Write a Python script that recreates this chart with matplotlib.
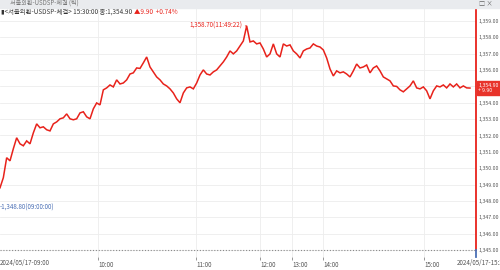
import matplotlib.pyplot as plt
import matplotlib.patches as mpatches
import numpy as np

plt.rcParams['font.family'] = ['Noto Sans CJK KR', 'DejaVu Sans']

# tick-chart of USD/KRW, one value every few ticks
PRICES = [
    1348.80, 1349.42, 1350.64, 1350.45, 1351.19, 1351.86, 1351.49, 1351.37, 1351.67, 1351.49,
    1352.16, 1352.71, 1352.47, 1352.53, 1352.35, 1352.28, 1352.71, 1352.83, 1353.02, 1353.08,
    1353.32, 1353.02, 1352.96, 1353.02, 1353.38, 1353.45, 1353.14, 1353.02, 1353.63, 1353.99,
    1353.87, 1354.79, 1354.91, 1355.09, 1354.97, 1355.40, 1355.15, 1355.21, 1355.40, 1355.76,
    1355.83, 1356.13, 1356.10, 1356.44, 1356.80, 1356.19, 1355.89, 1355.58, 1355.40, 1355.15,
    1355.03, 1354.85, 1354.60, 1354.24, 1354.00, 1354.60, 1354.91, 1354.97, 1354.85, 1355.21,
    1355.70, 1356.01, 1355.76, 1355.70, 1355.89, 1356.01, 1356.25, 1356.50, 1356.80, 1357.17,
    1356.99, 1357.17, 1357.47, 1357.78, 1358.70, 1357.72, 1357.78, 1357.60, 1357.66, 1357.29,
    1356.80, 1356.99, 1357.60, 1356.99, 1356.80, 1357.60, 1357.47, 1357.54, 1357.17, 1356.99,
    1356.74, 1357.17, 1357.29, 1357.35, 1357.60, 1357.47, 1357.41, 1357.23, 1356.74, 1356.07,
    1355.64, 1355.95, 1355.83, 1355.89, 1355.76, 1355.58, 1355.95, 1356.37, 1356.13, 1356.19,
    1356.31, 1355.83, 1356.13, 1356.25, 1355.95, 1355.58, 1355.46, 1355.34, 1355.03, 1355.00,
    1354.79, 1354.67, 1354.85, 1355.03, 1355.34, 1354.91, 1354.85, 1354.97, 1354.73, 1354.24,
    1354.73, 1355.03, 1354.97, 1355.09, 1354.91, 1355.15, 1354.97, 1355.15, 1354.91, 1355.03,
    1354.91, 1354.90,
]

# position (in samples) where each hour starts
HOUR_POS = [29.4, 58.8, 78.0, 87.6, 96.9, 127.2]
HOUR_LABELS = ["10:00", "11:00", "12:00", "13:00", "14:00", "15:00"]

PREV_CLOSE = 1345.00
LAST = 1354.90
CHANGE = 9.90
CHANGE_PCT = 0.74
HIGH, HIGH_TIME = 1358.70, "11:49:22"
LOW, LOW_TIME = 1348.80, "09:00:00"
Y_TICKS = list(range(1345, 1360))

RED = '#e8221b'
BLUE = '#4a6fb5'
GRID = '#ededed'
TXT = '#555555'

fig = plt.figure(figsize=(5, 2.7), dpi=100)
# axes: 0..476 px wide, 8..257 px from the top
ax = fig.add_axes([0, 13 / 270, 476 / 500, 249 / 270])

x = np.arange(len(PRICES))
ax.plot(x, PRICES, color=RED, lw=1.1, solid_joinstyle='miter')

ymin, ymax = 1344.57, 1359.795
ax.set_xlim(0, 142.8)
ax.set_ylim(ymin, ymax)

for v in Y_TICKS:
    ax.axhline(v, color=GRID, lw=0.6, zorder=0)
for p in HOUR_POS:
    ax.axvline(p, color=GRID, lw=0.6, zorder=0)
ax.axhline(PREV_CLOSE, color='#8a8a8a', lw=0.8, ls=(0, (1, 1.6)), zorder=1)

for s in ax.spines.values():
    s.set_visible(False)

# right axis line: red above previous close, blue below
ax.plot([1, 1], [PREV_CLOSE, ymax], color=RED, lw=1.3,
        transform=ax.get_yaxis_transform(), clip_on=False)
ax.plot([1, 1], [ymin, PREV_CLOSE], color=BLUE, lw=1.3,
        transform=ax.get_yaxis_transform(), clip_on=False)

ax.yaxis.tick_right()
ax.set_yticks(Y_TICKS)
ax.set_yticklabels(["" if v == 1355 else f"{v:,.2f}" for v in Y_TICKS])
ax.tick_params(axis='y', length=0, pad=1.8, labelsize=3.8, labelcolor=TXT)

ax.set_xticks(HOUR_POS)
ax.set_xticklabels(HOUR_LABELS)
ax.tick_params(axis='x', length=2.5, width=0.6, color='#888888', pad=0.3,
               labelsize=4.5, labelcolor=TXT)
for lbl in ax.get_xticklabels():
    lbl.set_horizontalalignment('left')

fig.text(0.0, 3.5 / 270, "2024/05/17-09:00", fontsize=4.5, color=TXT, ha='left', va='bottom')
fig.text(457 / 500, 3.5 / 270, "2024/05/17-15:30", fontsize=4.5, color=TXT, ha='left', va='bottom')

# high / low annotations
hi_i = int(np.argmax(PRICES))
ax.annotate(f"{HIGH:,.2f}({HIGH_TIME})", xy=(hi_i, HIGH), xytext=(-3, 0),
            textcoords='offset points', ha='right', va='center',
            fontsize=4.5, color=RED,
            arrowprops=dict(arrowstyle='-', color=RED, lw=0.6, shrinkA=0, shrinkB=0))
ax.annotate(f"-{LOW:,.2f}({LOW_TIME})", xy=(0, LOW), xytext=(0, -14),
            textcoords='offset points', ha='left', va='center',
            fontsize=4.5, color=BLUE)

# last price box
box = mpatches.Rectangle((477 / 500, 175 / 270), 23 / 500, 14 / 270,
                         transform=fig.transFigure, color='#e8332a', zorder=5)
fig.patches.append(box)
fig.text(478.5 / 500, 185 / 270, f"{LAST:,.2f}", fontsize=3.8, color='white', va='center', zorder=6)
fig.text(478.5 / 500, 179 / 270, f"+ {CHANGE:.2f}", fontsize=3.8, color='white', va='center', zorder=6)

# window header
bar = mpatches.Rectangle((0, 262 / 270), 1, 8 / 270, transform=fig.transFigure,
                         color='#e9ebee', zorder=5)
fig.patches.append(bar)
fig.text(10 / 500, 266 / 270, "서울외환-USDSP-체결 (틱)", fontsize=4.4, color='#777777',
         va='center', zorder=6)
fig.text(479 / 500, 266 / 270, "□ ×", fontsize=4.4, color='#666666', va='center', zorder=6)

t1 = fig.text(1 / 500, 258 / 270, "▮<서울외환-USDSP-체결> 15:30:00 종:1,354.90 ",
              fontsize=4.6, color='#333333', va='center')
fig.canvas.draw()
bb = t1.get_window_extent()
fig.text(bb.x1 / 500, 258 / 270, f"▲{CHANGE:.2f}  +{CHANGE_PCT:.2f}%",
         fontsize=4.6, color=RED, va='center')

fig.savefig("out.png", dpi=100, facecolor='white')
